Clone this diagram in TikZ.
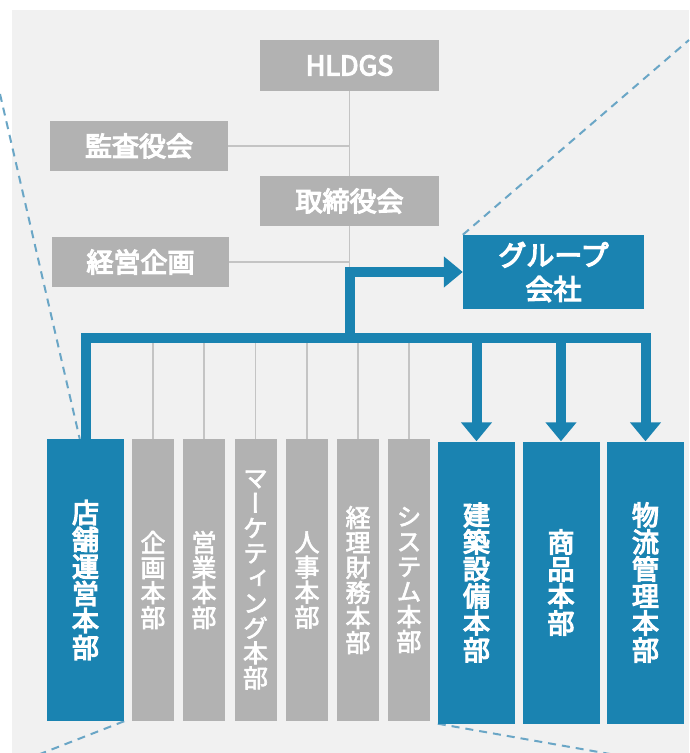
\documentclass[tikz,border=0pt]{standalone}
\usepackage{fontspec}
\setmainfont{Noto Sans CJK JP}
\newfontfamily\jpm[FakeBold=4.5]{Noto Sans CJK JP}
\newfontfamily\jpvm[RawFeature=+vert,FakeBold=4.5]{Noto Sans CJK JP}
\newfontfamily\jpvr[RawFeature=+vert,FakeBold=2.5]{Noto Sans CJK JP}
\usetikzlibrary{arrows.meta}
\definecolor{bgc}{HTML}{F1F1F1}
\definecolor{boxg}{HTML}{B2B2B2}
\definecolor{boxb}{HTML}{1A83B1}
\definecolor{dashc}{HTML}{6AA6C6}
\definecolor{lineg}{HTML}{C4C4C4}
\pgfdeclarelayer{bg}
\pgfsetlayers{bg,main}
\begin{document}
\begin{tikzpicture}[x=1pt,y=-1pt,
  hbox/.style={fill=boxg, text=white, inner sep=0pt, font=\jpm\fontsize{27}{30}\selectfont},
  gvbox/.style={fill=boxg, text=white, inner sep=0pt, minimum width=42pt, minimum height=282pt, align=center, font=\jpvr\fontsize{25}{25}\selectfont},
  bvbox/.style={fill=boxb, text=white, inner sep=0pt, minimum width=77pt, minimum height=282pt, align=center, font=\jpvm\fontsize{27}{27}\selectfont},
  gl/.style={draw=lineg, line width=1.5pt},
  bl/.style={draw=boxb, line width=10pt},
  tip/.style={-{Triangle[width=30pt,length=19pt]}},
  dl/.style={draw=dashc, line width=2pt, dash pattern=on 8pt off 6pt}
]
\useasboundingbox (0,0) rectangle (689,753);

% top boxes
\node[hbox, minimum width=179pt, minimum height=51pt] (hl) at (349.5,65.5) {HLDGS};
\node[hbox, minimum width=178pt, minimum height=50pt] (kansa) at (139,146) {監査役会};
\node[hbox, minimum width=179pt, minimum height=50pt] (tori) at (349.5,201) {取締役会};
\node[hbox, minimum width=177pt, minimum height=50pt] (keiei) at (140.5,262) {経営企画};
\node[fill=boxb, text=white, inner sep=0pt, minimum width=181pt, minimum height=74pt, align=center,
      font=\jpm\fontsize{28}{34}\selectfont] (group) at (553.5,272) {グループ\\会社};

% bottom boxes
\node[bvbox] (tenpo) at (85.5,580) {店\\舗\\運\\営\\本\\部};
\node[gvbox] (kikaku) at (153,580) {企\\画\\本\\部};
\node[gvbox] (eigyo) at (204,580) {営\\業\\本\\部};
\node[gvbox] (mark) at (255.5,580) {マ\\ー\\ケ\\テ\\ィ\\ン\\グ\\本\\部};
\node[gvbox] (jinji) at (307,580) {人\\事\\本\\部};
\node[gvbox] (keiri) at (358,580) {経\\理\\財\\務\\本\\部};
\node[gvbox] (sys) at (409,580) {シ\\ス\\テ\\ム\\本\\部};
\node[bvbox] (kenchiku) at (476.5,582.5) {建\\築\\設\\備\\本\\部};
\node[bvbox] (shohin) at (561,582.5) {商\\品\\本\\部};
\node[bvbox] (butsu) at (645.5,582.5) {物\\流\\管\\理\\本\\部};

\coordinate (jn) at (349.5,272);
\coordinate (barY) at (0,338);
\coordinate (dA) at (0,94);
\coordinate (dAe) at (80,440);
\coordinate (dB) at (40,754);
\coordinate (dC) at (689,40);
\coordinate (dD) at (610,754);

% background and zoom lines
\begin{pgfonlayer}{bg}
\fill[white] (0,0) rectangle (689,753);
\fill[bgc] (12,10) rectangle (689,753);
\draw[dl] (dA) -- (dAe);
\draw[dl] (tenpo.south east) -- (dB);
\draw[dl] (group.north west) -- (dC);
\draw[dl] (kenchiku.south west) -- (dD);
\end{pgfonlayer}

% gray connectors
\draw[gl] (hl) -- (tori);
\draw[gl] (tori.south) -- (jn);
\draw[gl] (kansa.east) -- (kansa.east -| hl.south);
\draw[gl] (keiei.east) -- (keiei.east -| hl.south);
\foreach \n in {kikaku,eigyo,mark,jinji,keiri,sys}
  \draw[gl] (\n.north |- barY) -- (\n.north);

% blue connectors
\draw[bl, tip] (jn |- barY) -- (jn) -- (group.west);
\draw[bl, tip] (tenpo.north) -- (tenpo.north |- barY) -- (butsu.north |- barY) -- (butsu.north);
\draw[bl, tip] (kenchiku.north |- barY) -- (kenchiku.north);
\draw[bl, tip] (shohin.north |- barY) -- (shohin.north);
\end{tikzpicture}
\end{document}
